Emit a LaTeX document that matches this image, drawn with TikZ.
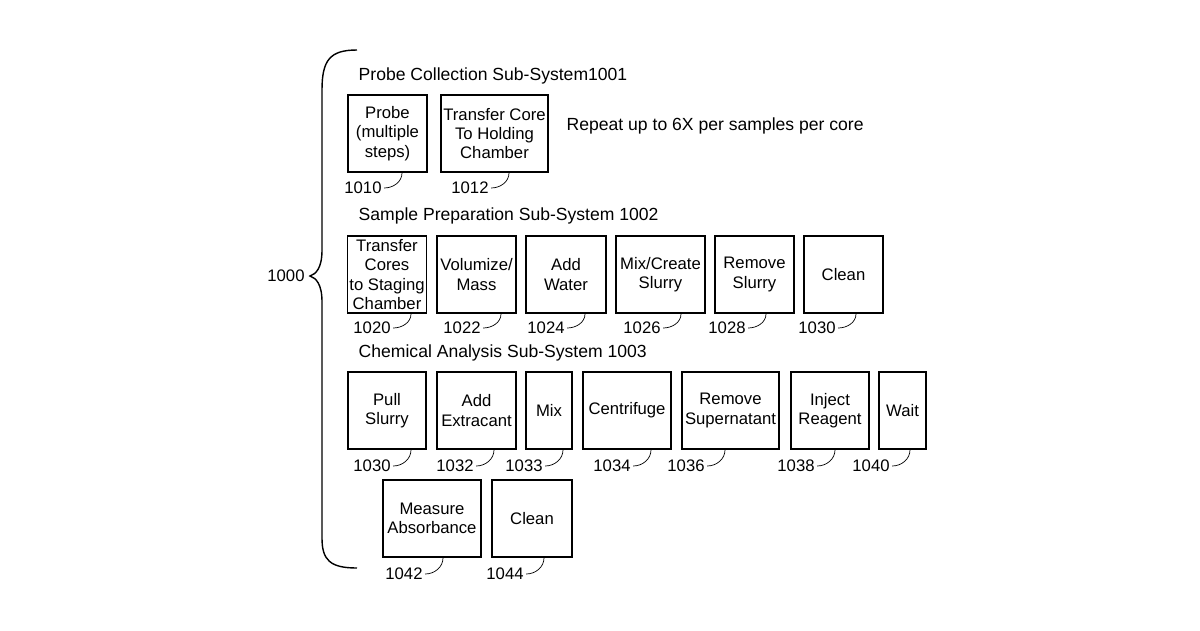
\documentclass[tikz,border=0pt]{standalone}
\usepackage{fontspec}
\setmainfont{Liberation Sans}
\usetikzlibrary{calc}
\begin{document}
\begin{tikzpicture}[x=0.02cm,y=-0.02cm,thick,
	step box/.style={draw,thick,align=center,font=\fontsize{9.5}{11}\selectfont,
		minimum height=1.54cm,inner sep=1pt},
	ref label/.style={font=\fontsize{9.5}{11}\selectfont,inner sep=1pt},
	head/.style={font=\fontsize{10}{12}\selectfont,anchor=west,inner sep=0pt}]
	\useasboundingbox (0,0) rectangle (1200,630);
	
	% brace
	\draw[thick] (357,50) .. controls (330,50) and (322,60) .. (322,90) -- (322,250)
	.. controls (322,268) and (316,274) .. (310,276)
	.. controls (316,278) and (322,284) .. (322,302) -- (322,538)
	.. controls (322,560) and (330,568) .. (357,568);
	\node[ref label] (l1000) at (286,276) {1000};
	
	% probe collection
	\node[head] (h1) at (358,76) {Probe Collection Sub-System1001};
	\node[step box,minimum width=1.58cm] (p1) at (387.5,133.5) {Probe\\(multiple\\steps)};
	\node[step box,minimum width=2.14cm] (p2) at (494.5,133.5) {Transfer Core\\To Holding\\Chamber};
	\node[head] (rep) at (566,126) {Repeat up to 6X per samples per core};
	
	% sample preparation
	\node[head] (h2) at (358,216) {Sample Preparation Sub-System 1002};
	\node[step box,minimum width=1.56cm] (s1) at (387,274.5) {Transfer\\Cores\\to Staging\\Chamber};
	\node[step box,minimum width=1.58cm] (s2) at (476.5,274.5) {Volumize/\\Mass};
	\node[step box,minimum width=1.60cm] (s3) at (566,274.5) {Add\\Water};
	\node[step box,minimum width=1.78cm] (s4) at (660.5,274.5) {Mix/Create\\Slurry};
	\node[step box,minimum width=1.58cm] (s5) at (754.5,274.5) {Remove\\Slurry};
	\node[step box,minimum width=1.58cm] (s6) at (843.5,274.5) {Clean};
	
	% chemical analysis
	\node[head] (h3) at (358,353) {Chemical Analysis Sub-System 1003};
	\node[step box,minimum width=1.56cm] (c1) at (387,410.5) {Pull\\Slurry};
	\node[step box,minimum width=1.58cm] (c2) at (476.5,410.5) {Add\\Extracant};
	\node[step box,minimum width=0.92cm] (c3) at (549,410.5) {Mix};
	\node[step box,minimum width=1.76cm] (c4) at (627,410.5) {Centrifuge};
	\node[step box,minimum width=1.94cm] (c5) at (730.5,410.5) {Remove\\Supernatant};
	\node[step box,minimum width=1.56cm] (c6) at (830,410.5) {Inject\\Reagent};
	\node[step box,minimum width=0.94cm] (c7) at (902.5,410.5) {Wait};
	\node[step box,minimum width=1.96cm] (c8) at (432,518.5) {Measure\\Absorbance};
	\node[step box,minimum width=1.60cm] (c9) at (532,518.5) {Clean};
	
	% reference numbers
	\foreach \lab/\stp/\x/\y in {1010/p1/363/188,1012/p2/470/188,
		1020/s1/372/328,1022/s2/462/328,1024/s3/546/328,1026/s4/642/328,1028/s5/727/328,1030/s6/817/328,
		1030/c1/372/466,1032/c2/455/466,1033/c3/524/466,1034/c4/612/466,1036/c5/686/466,1038/c6/796/466,1040/c7/871/466,
		1042/c8/404/574,1044/c9/505/574}{
		\node[ref label] (l\stp) at (\x,\y) {\lab};
		\coordinate (e\stp) at ($(l\stp.east)+(18,0)$);
		\draw[thin] (l\stp.east) to[out=0,in=-90] (e\stp |- \stp.south);
	}
\end{tikzpicture}
\end{document}
